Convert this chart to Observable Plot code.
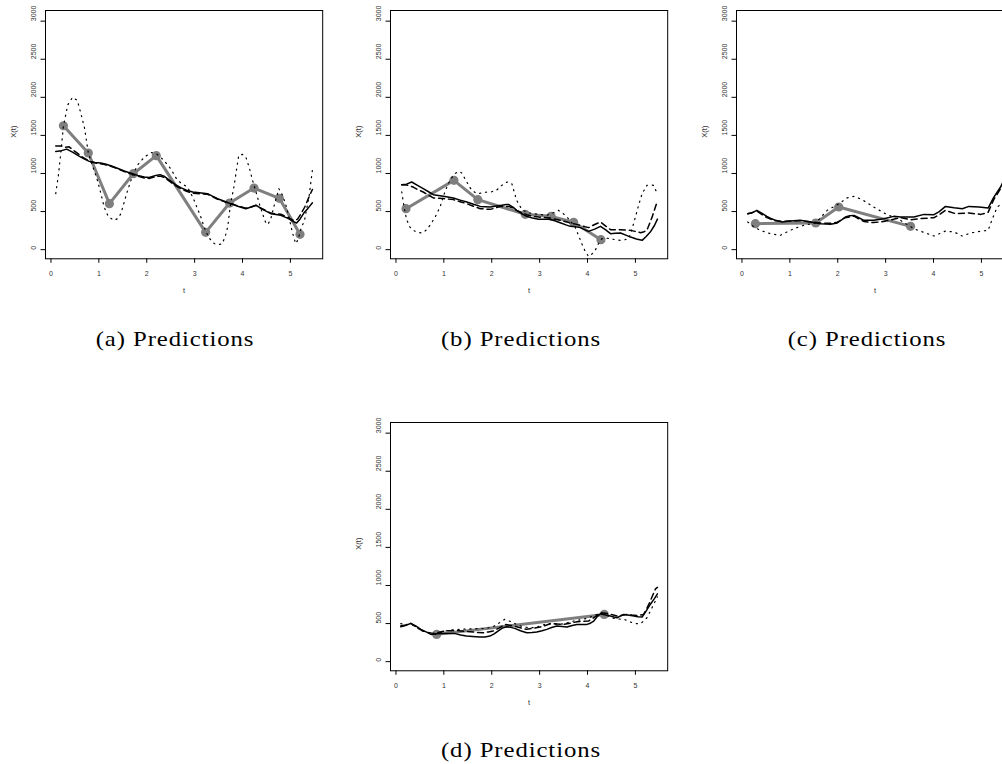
<!DOCTYPE html>
<html>
<head>
<meta charset="utf-8">
<script src="https://cdn.jsdelivr.net/npm/d3@7"></script>
<script src="https://cdn.jsdelivr.net/npm/@observablehq/plot@0.6"></script>
<style>
  html, body { margin: 0; padding: 0; background: #fff; width: 1002px; height: 764px; overflow: hidden; }
  .panel { position: absolute; }
  .panel svg { max-width: none !important; }
  .cap { position: absolute; font-family: "Liberation Serif", "Times New Roman", serif; font-size: 21.5px; line-height: 21px;
         letter-spacing: 0.8px; color: #000; white-space: nowrap; transform: translateX(-50%) scaleX(1.15); transform-origin: center; }
</style>
</head>
<body>
<script>
// Axis ticks shared by every panel
const tTicks = [0, 1, 2, 3, 4, 5];
const xTicks = [0, 500, 1000, 1500, 2000, 2500, 3000];
const captions = ["(a) Predictions", "(b) Predictions", "(c) Predictions", "(d) Predictions"];

// Panel (a): observations and the three prediction curves, [t, X(t)]
const obsA = [[0.26,1627],[0.78,1269],[1.22,604],[1.72,997],[2.2,1234],[3.23,227],[3.73,612],[4.24,809],[4.77,674],[5.2,201]];
const solidA = [[0.10,1290],[0.22,1300],[0.33,1320],[0.45,1280],[0.56,1237],[0.68,1195],[0.8,1159],[0.92,1145],[1.04,1137],[1.15,1120],[1.25,1102],[1.4,1065],[1.53,1032],[1.67,1003],[1.81,975],[1.95,955],[2.05,948],[2.19,975],[2.28,985],[2.36,965],[2.5,900],[2.6,855],[2.71,814],[2.83,780],[2.96,756],[3.1,748],[3.27,735],[3.38,700],[3.48,669],[3.62,635],[3.75,604],[3.9,570],[4.07,538],[4.18,560],[4.28,585],[4.4,535],[4.59,472],[4.7,460],[4.8,450],[4.95,410],[5.08,362],[5.13,350],[5.2,400],[5.28,480],[5.37,545],[5.46,615]];
const dashedA = [[0.10,1360],[0.22,1362],[0.3,1345],[0.38,1350],[0.5,1290],[0.65,1220],[0.8,1160],[0.95,1135],[1.1,1120],[1.25,1095],[1.4,1060],[1.53,1025],[1.67,995],[1.81,965],[1.95,940],[2.05,935],[2.19,960],[2.28,965],[2.36,950],[2.5,885],[2.6,840],[2.71,800],[2.83,765],[2.96,742],[3.1,735],[3.27,728],[3.38,695],[3.48,662],[3.62,630],[3.75,605],[3.9,575],[4.07,545],[4.18,560],[4.28,580],[4.4,540],[4.59,480],[4.7,470],[4.8,465],[4.95,420],[5.08,380],[5.15,400],[5.22,470],[5.3,560],[5.38,680],[5.46,790]];
const dottedA = [[0.10,735],[0.16,1000],[0.21,1300],[0.26,1620],[0.35,1900],[0.45,2000],[0.55,1960],[0.62,1800],[0.7,1600],[0.78,1270],[0.88,1080],[0.97,910],[1.05,720],[1.11,560],[1.2,430],[1.32,385],[1.4,410],[1.46,472],[1.6,778],[1.72,1000],[1.82,1120],[1.95,1215],[2.1,1275],[2.2,1260],[2.29,1215],[2.4,1140],[2.5,1063],[2.64,910],[2.75,860],[2.85,822],[2.92,740],[2.99,647],[3.13,428],[3.23,240],[3.32,140],[3.41,79],[3.5,66],[3.58,79],[3.65,200],[3.69,297],[3.75,600],[3.82,822],[3.92,1238],[4.0,1250],[4.07,1215],[4.14,1080],[4.21,910],[4.28,760],[4.35,603],[4.42,470],[4.48,362],[4.53,330],[4.59,406],[4.69,647],[4.76,800],[4.83,720],[4.9,600],[4.97,428],[5.04,230],[5.11,79],[5.16,130],[5.21,253],[5.3,400],[5.39,700],[5.46,1050]];

// Panel (b)
const obsB = [[0.21,538],[1.21,910],[1.71,656],[2.7,464],[3.24,437],[3.71,359],[4.28,131]];
const solidB = [[0.12,853],[0.22,860],[0.33,888],[0.45,845],[0.57,800],[0.68,760],[0.78,722],[0.99,700],[1.2,677],[1.34,650],[1.48,625],[1.62,595],[1.76,568],[1.97,559],[2.1,572],[2.18,581],[2.3,592],[2.35,594],[2.45,555],[2.52,516],[2.62,475],[2.73,437],[2.85,415],[2.98,398],[3.1,398],[3.22,398],[3.33,375],[3.43,354],[3.55,325],[3.64,306],[3.75,300],[3.85,289],[3.95,260],[4.02,240],[4.15,270],[4.27,306],[4.38,260],[4.48,210],[4.58,215],[4.69,218],[4.8,190],[4.9,165],[5.02,140],[5.14,122],[5.22,170],[5.31,231],[5.4,320],[5.46,400]];
const dashedB = [[0.12,853],[0.22,850],[0.36,822],[0.45,790],[0.57,757],[0.68,715],[0.78,679],[0.99,670],[1.2,657],[1.34,630],[1.48,603],[1.62,570],[1.76,538],[1.97,529],[2.1,552],[2.18,568],[2.35,568],[2.45,545],[2.52,516],[2.62,488],[2.73,459],[2.85,440],[2.98,429],[3.1,422],[3.22,416],[3.33,400],[3.43,385],[3.55,365],[3.64,350],[3.75,335],[3.85,319],[3.95,300],[4.02,289],[4.15,330],[4.27,363],[4.38,310],[4.48,262],[4.58,262],[4.69,262],[4.8,258],[4.9,253],[5.01,238],[5.11,223],[5.18,235],[5.24,253],[5.35,430],[5.46,640]];
const dottedB = [[0.12,760],[0.17,560],[0.22,400],[0.29,300],[0.36,253],[0.45,228],[0.54,218],[0.62,250],[0.71,319],[0.82,430],[0.92,559],[1.0,720],[1.09,866],[1.21,990],[1.3,1025],[1.37,1010],[1.48,888],[1.58,780],[1.69,735],[1.8,745],[1.9,757],[2.0,760],[2.1,780],[2.2,840],[2.32,888],[2.42,866],[2.52,647],[2.6,560],[2.66,516],[2.76,485],[2.87,472],[3.0,462],[3.15,450],[3.27,480],[3.39,516],[3.48,480],[3.57,429],[3.65,370],[3.74,297],[3.81,190],[3.88,79],[3.95,-20],[4.02,-88],[4.09,-60],[4.16,-9],[4.23,80],[4.3,144],[4.4,150],[4.48,144],[4.58,130],[4.69,122],[4.78,130],[4.86,144],[4.93,270],[5.0,428],[5.07,590],[5.14,735],[5.24,844],[5.31,850],[5.38,844],[5.46,730]];

// Panel (c)
const obsC = [[0.28,341],[1.54,350],[2.02,560],[3.52,306]];
const solidC = [[0.12,472],[0.2,480],[0.31,516],[0.42,475],[0.52,437],[0.62,405],[0.7,385],[0.84,363],[1.01,376],[1.22,385],[1.43,363],[1.64,341],[1.85,332],[1.99,350],[2.08,390],[2.16,429],[2.25,445],[2.34,450],[2.45,415],[2.55,385],[2.75,385],[2.96,407],[3.17,437],[3.31,428],[3.45,428],[3.59,428],[3.8,463],[4.01,459],[4.12,500],[4.25,568],[4.43,551],[4.6,538],[4.74,568],[4.95,559],[5.14,546],[5.26,690],[5.4,822],[5.46,900]];
const dashedC = [[0.12,472],[0.2,485],[0.31,505],[0.42,460],[0.52,420],[0.62,395],[0.7,380],[0.84,370],[1.01,375],[1.22,380],[1.43,365],[1.64,350],[1.85,345],[1.99,360],[2.16,420],[2.34,440],[2.45,400],[2.55,370],[2.75,355],[2.96,370],[3.17,400],[3.31,420],[3.52,393],[3.73,407],[4.01,420],[4.12,460],[4.25,516],[4.46,472],[4.74,481],[4.99,463],[5.14,490],[5.26,660],[5.4,800],[5.46,860]];
const dottedC = [[0.12,363],[0.25,300],[0.38,254],[0.59,210],[0.8,188],[1.01,254],[1.15,290],[1.29,319],[1.54,350],[1.78,516],[2.02,600],[2.2,680],[2.34,700],[2.5,660],[2.75,560],[3.0,470],[3.31,385],[3.59,275],[3.87,210],[4.01,179],[4.25,244],[4.43,232],[4.6,179],[4.78,218],[4.99,244],[5.14,253],[5.23,407],[5.33,559],[5.46,620]];

// Panel (d)
const obsD = [[0.85,358],[4.35,620]];
const solidD = [[0.1,459],[0.2,475],[0.31,502],[0.42,465],[0.52,424],[0.63,390],[0.73,358],[0.85,365],[0.98,371],[1.1,370],[1.22,371],[1.35,350],[1.47,336],[1.6,330],[1.75,323],[1.86,325],[1.96,336],[2.05,365],[2.13,402],[2.22,440],[2.31,459],[2.4,450],[2.48,437],[2.6,405],[2.73,380],[2.84,383],[2.94,389],[3.05,405],[3.15,424],[3.25,448],[3.36,467],[3.47,460],[3.57,454],[3.68,475],[3.78,489],[3.89,488],[3.99,489],[4.06,505],[4.13,533],[4.2,590],[4.27,629],[4.38,612],[4.48,598],[4.55,585],[4.62,576],[4.69,600],[4.76,620],[4.87,610],[4.97,598],[5.05,590],[5.14,585],[5.22,660],[5.31,751],[5.4,830],[5.46,890]];
const dashedD = [[0.1,467],[0.2,480],[0.31,502],[0.44,450],[0.56,402],[0.66,385],[0.77,371],[0.9,385],[1.01,402],[1.14,407],[1.26,410],[1.4,400],[1.54,393],[1.68,385],[1.82,380],[1.93,390],[2.03,402],[2.15,440],[2.27,489],[2.4,475],[2.52,459],[2.63,440],[2.73,424],[2.87,440],[3.01,454],[3.12,475],[3.22,498],[3.36,495],[3.5,489],[3.64,505],[3.78,524],[3.9,528],[4.02,533],[4.15,585],[4.27,642],[4.41,633],[4.52,615],[4.62,598],[4.72,610],[4.83,620],[4.93,612],[5.03,607],[5.1,612],[5.17,620],[5.24,700],[5.31,795],[5.42,956],[5.46,975]];
const dottedD = [[0.1,498],[0.22,490],[0.35,480],[0.45,440],[0.56,402],[0.7,375],[0.84,358],[0.96,385],[1.08,410],[1.2,418],[1.33,424],[1.47,428],[1.61,432],[1.75,434],[1.89,437],[2.0,455],[2.1,480],[2.18,520],[2.27,555],[2.36,535],[2.45,511],[2.55,480],[2.66,454],[2.78,448],[2.9,445],[3.02,470],[3.15,498],[3.29,495],[3.43,489],[3.57,510],[3.71,533],[3.85,550],[3.99,568],[4.1,595],[4.2,620],[4.35,620],[4.45,595],[4.55,568],[4.65,560],[4.76,555],[4.85,535],[4.93,511],[5.02,500],[5.1,498],[5.17,530],[5.24,576],[5.31,660],[5.38,751],[5.46,850]];

// Frame geometry (frame left/top in page pixels) and caption centres
const M = {left: 45, top: 10, right: 12, bottom: 48};
const FW = 277.2, FH = 248.3;
const panels = [
  {obs: obsA, solid: solidA, dashed: dashedA, dotted: dottedA, L: 44.5, T: 10, cx: 174.5, cy: 328.5},
  {obs: obsB, solid: solidB, dashed: dashedB, dotted: dottedB, L: 390.3, T: 10, cx: 520.5, cy: 328.5},
  {obs: obsC, solid: solidC, dashed: dashedC, dotted: dottedC, L: 736.2, T: 10, cx: 866.5, cy: 328.5},
  {obs: obsD, solid: solidD, dashed: dashedD, dotted: dottedD, L: 390.3, T: 421.5, cx: 520.5, cy: 740}
];

const X = d => d[0], Y = d => d[1];
const font = "Liberation Sans, Arial, Helvetica, sans-serif";

function drawPanel(p) {
  return Plot.plot({
    width: M.left + FW + M.right,
    height: M.top + FH + M.bottom,
    marginLeft: M.left, marginTop: M.top, marginRight: M.right, marginBottom: M.bottom,
    x: {domain: [-0.114, 5.674]},
    y: {domain: [-120, 3140]},
    style: {background: "transparent", fontFamily: font, overflow: "visible", maxWidth: "none"},
    marks: [
      // observed values: grey polyline with filled circles
      Plot.line(p.obs, {x: X, y: Y, stroke: "#7f7f7f", strokeWidth: 3, strokeLinejoin: "round"}),
      Plot.dot(p.obs, {x: X, y: Y, r: 4.6, fill: "#7f7f7f", stroke: "none"}),
      // prediction curves
      Plot.line(p.solid, {x: X, y: Y, stroke: "#000", strokeWidth: 1.5}),
      Plot.line(p.dashed, {x: X, y: Y, stroke: "#000", strokeWidth: 1.5, strokeDasharray: "6,4"}),
      Plot.line(p.dotted, {x: X, y: Y, stroke: "#000", strokeWidth: 1.2, strokeDasharray: "1.2,4.8"}),
      Plot.frame({stroke: "#000", strokeWidth: 1}),
      // axes
      Plot.axisX(tTicks, {tickSize: 4.5, tickPadding: 7.5, fontSize: 7, label: null, stroke: "#000", fill: "#333"}),
      Plot.axisY(xTicks, {tickSize: 4.5, fill: "none", label: null, stroke: "#000"}),
      Plot.text(xTicks, {y: d => d, frameAnchor: "left", dx: -12.2, rotate: -90, text: d => String(d), fontSize: 7, fill: "#333"}),
      Plot.text(["t"], {frameAnchor: "bottom", dy: 34.4, text: d => d, fontSize: 7.5, fill: "#333"}),
      Plot.text(["X(t)"], {frameAnchor: "left", dx: -31.8, dy: 3, rotate: -90, text: d => d, fontSize: 7.5, fill: "#333"})
    ]
  });
}

panels.forEach((p, i) => {
  const wrap = document.createElement("div");
  wrap.className = "panel";
  wrap.style.left = (p.L - M.left) + "px";
  wrap.style.top = (p.T - M.top) + "px";
  wrap.style.width = (M.left + FW + M.right) + "px";
  wrap.appendChild(drawPanel(p));
  document.body.appendChild(wrap);

  const cap = document.createElement("div");
  cap.className = "cap";
  cap.style.left = p.cx + "px";
  cap.style.top = p.cy + "px";
  cap.textContent = captions[i];
  document.body.appendChild(cap);
});
</script>
</body>
</html>
